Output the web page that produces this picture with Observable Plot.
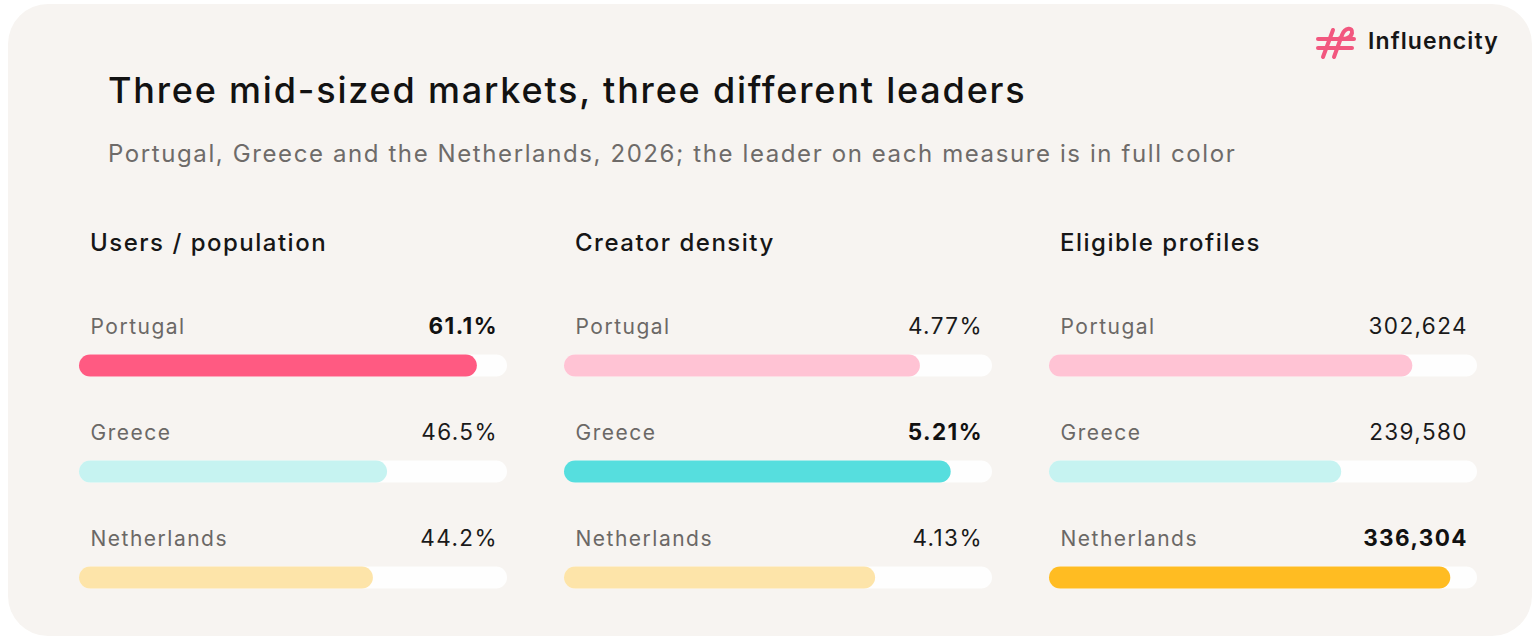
<!DOCTYPE html>
<html>
<head>
<meta charset="utf-8">
<script src="https://cdn.jsdelivr.net/npm/d3@7"></script>
<script src="https://cdn.jsdelivr.net/npm/@observablehq/plot@0.6"></script>
<style>
  html, body { margin: 0; padding: 0; background: #ffffff; width: 1540px; height: 642px; overflow: hidden; }
  body { font-family: Inter, "Noto Sans", sans-serif; position: relative; }
  .card { position: absolute; left: 8px; top: 4px; width: 1524px; height: 632px; border-radius: 40px; background: #f7f4f1; }
  .abs { position: absolute; white-space: nowrap; }
  .title { left: 108px; top: 72px; font-size: 36px; line-height: 36px; font-weight: 500; color: #121212; letter-spacing: 1.8px; }
  .subtitle { left: 108px; top: 142px; font-size: 24px; line-height: 24px; font-weight: 400; color: #6e6b69; letter-spacing: 1.6px; }
  .head { top: 231px; font-size: 24px; line-height: 24px; font-weight: 500; color: #161616; letter-spacing: 1.5px; }
  .logo { left: 1368px; top: 30px; font-size: 23px; line-height: 23px; font-weight: 600; color: #161616; letter-spacing: 1.1px; }
  .panel { position: absolute; top: 300px; }
  .panel .lbl text { letter-spacing: 1.5px; }
  .panel .val text { letter-spacing: 1.4px; }
</style>
</head>
<body>
<div class="card"></div>
<svg class="abs" style="left:1316px;top:24px" width="42" height="36" viewBox="0 0 42 36">
  <g fill="none" stroke="#f2577f" stroke-width="4" stroke-linecap="round">
    <path d="M7 33 L17 6"/>
    <path d="M18 33 L26 11 C29 3 37 3 36 9 C35 14 28 16 24 14"/>
    <path d="M2 15 H38"/>
    <path d="M2 24 H36"/>
  </g>
</svg>
<div class="abs logo">Influencity</div>
<div class="abs title">Three mid-sized markets, three different leaders</div>
<div class="abs subtitle">Portugal, Greece and the Netherlands, 2026; the leader on each measure is in full color</div>
<div id="panels"></div>
<script>
// ---- data ----
const countries = ["Portugal", "Greece", "Netherlands"];
const measures = ["Users / population", "Creator density", "Eligible profiles"];
const usersPopulation = [61.1, 46.5, 44.2];
const creatorDensity = [4.77, 5.21, 4.13];
const eligibleProfiles = [302624, 239580, 336304];
const measureValues = [usersPopulation, creatorDensity, eligibleProfiles];
const scaleMax = [66, 5.8, 360000];
const formats = [d => d.toFixed(1) + "%", d => d.toFixed(2) + "%", d3.format(",")];
const fullColors = ["#ff5a82", "#56dede", "#ffbc22"];
const lightColors = ["#ffc3d4", "#c6f3f1", "#fde4a9"];

const panelLeft = [79, 564, 1049];
const container = document.getElementById("panels");

measures.forEach((m, i) => {
  const vals = measureValues[i];
  const maxV = d3.max(vals);
  const rows = countries.map((c, j) => ({
    country: c,
    value: vals[j],
    max: scaleMax[i],
    leader: vals[j] === maxV,
    color: vals[j] === maxV ? fullColors[j] : lightColors[j],
    label: formats[i](vals[j])
  }));

  const head = document.createElement("div");
  head.className = "abs head";
  head.style.left = (panelLeft[i] + 11) + "px";
  head.textContent = m;
  container.appendChild(head);

  const chart = Plot.plot({
    width: 428,
    height: 300,
    margin: 0,
    style: { background: "transparent", overflow: "visible", fontFamily: "Inter, 'Noto Sans', sans-serif" },
    x: { domain: [0, scaleMax[i]], range: [11, 417], axis: null },
    y: { type: "point", domain: countries, range: [64.5, 277.5], padding: 0, axis: null },
    color: { type: "identity" },
    marks: [
      Plot.ruleY(rows, { y: "country", x1: 0, x2: "max", stroke: "#fefefe", strokeWidth: 22, strokeLinecap: "round" }),
      Plot.ruleY(rows, { y: "country", x1: 0, x2: "value", stroke: "color", strokeWidth: 22, strokeLinecap: "round" }),
      Plot.text(rows, { x: 0, y: "country", text: "country", textAnchor: "start", lineAnchor: "bottom", dy: -32, fontSize: 21, fill: "#6b6866", className: "lbl" }),
      Plot.text(rows.filter(d => !d.leader), { x: "max", y: "country", text: "label", textAnchor: "end", lineAnchor: "bottom", dy: -32, dx: 1.4, fontSize: 22.5, fill: "#1a1a1a", className: "val" }),
      Plot.text(rows.filter(d => d.leader), { x: "max", y: "country", text: "label", textAnchor: "end", lineAnchor: "bottom", dy: -32, dx: 1.4, fontSize: 22.5, fontWeight: 700, fill: "#111111", className: "val" })
    ]
  });
  const wrap = document.createElement("div");
  wrap.className = "panel";
  wrap.style.left = panelLeft[i] + "px";
  wrap.appendChild(chart);
  container.appendChild(wrap);
});
</script>
</body>
</html>
